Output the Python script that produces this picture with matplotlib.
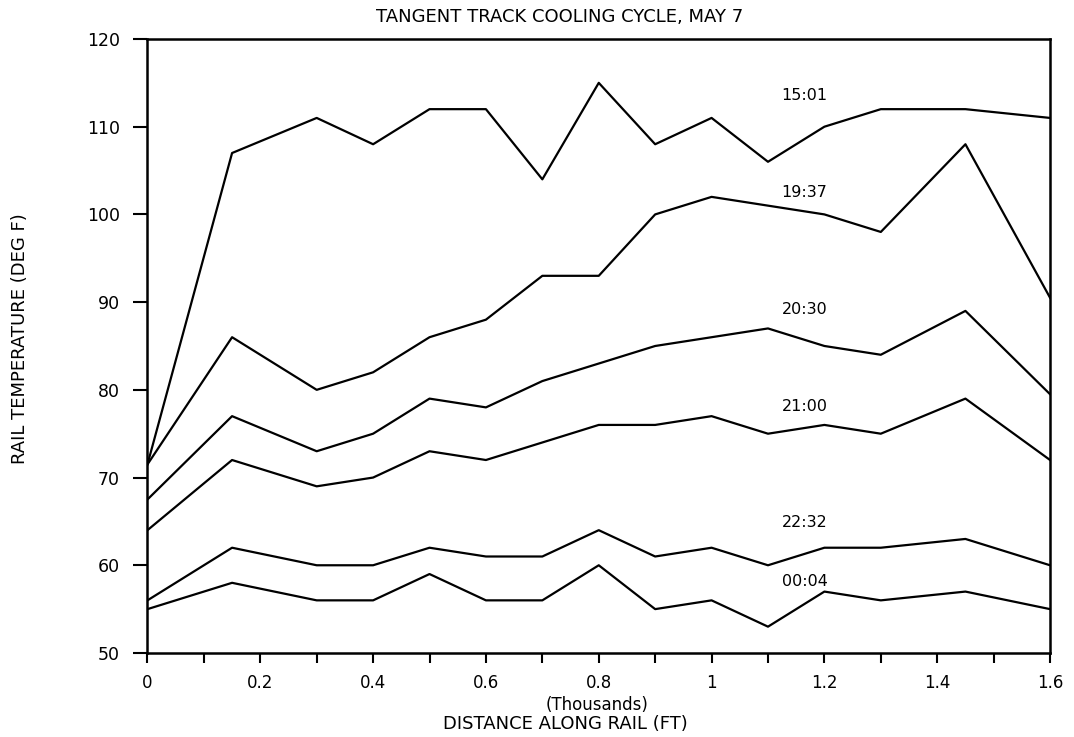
import numpy as np
import matplotlib
matplotlib.use('Agg')
import matplotlib.pyplot as plt
from matplotlib.ticker import FixedLocator, MultipleLocator


# 距离 (千英尺)
distance = [0, 0.15, 0.3, 0.4, 0.5, 0.6, 0.7, 0.8, 0.9, 1.0, 1.1, 1.2, 1.3, 1.45, 1.6]

# 各时刻的轨温 (deg F)
t_1501 = [71.5, 107, 111, 108, 112, 112, 104, 115, 108, 111, 106, 110, 112, 112, 111]
t_1937 = [71.5, 86, 80, 82, 86, 88, 93, 93, 100, 102, 101, 100, 98, 108, 90.5]
t_2030 = [67.5, 77, 73, 75, 79, 78, 81, 83, 85, 86, 87, 85, 84, 89, 79.5]
t_2100 = [64, 72, 69, 70, 73, 72, 74, 76, 76, 77, 75, 76, 75, 79, 72]
t_2232 = [56, 62, 60, 60, 62, 61, 61, 64, 61, 62, 60, 62, 62, 63, 60]
t_0004 = [55, 58, 56, 56, 59, 56, 56, 60, 55, 56, 53, 57, 56, 57, 55]

times = ['15:01', '19:37', '20:30', '21:00', '22:32', '00:04']
series = [t_1501, t_1937, t_2030, t_2100, t_2232, t_0004]
label_y = [113.6, 102.5, 89.2, 78.1, 64.9, 58.1]
label_x = 1.165

x_ticks = [0, 0.2, 0.4, 0.6, 0.8, 1.0, 1.2, 1.4, 1.6]
x_tick_labels = ['0', '0.2', '0.4', '0.6', '0.8', '1', '1.2', '1.4', '1.6']


def draw():
    plt.rcParams['font.family'] = ['DejaVu Sans']
    fig = plt.figure(figsize=(10.74, 7.37), dpi=100)
    ax = fig.add_axes([0.1373, 0.114, 0.8404, 0.8331])

    for t in series:
        ax.plot(distance, t, color='black', linewidth=1.6)

    for name, y in zip(times, label_y):
        ax.text(label_x, y, name, ha='center', va='center', fontsize=11.5)

    ax.set_xlim(0, 1.6)
    ax.set_ylim(50, 120)
    ax.xaxis.set_major_locator(FixedLocator(x_ticks))
    ax.xaxis.set_minor_locator(MultipleLocator(0.1))
    ax.set_xticklabels(x_tick_labels)
    ax.yaxis.set_major_locator(MultipleLocator(10))

    ax.tick_params(axis='x', which='both', direction='out', length=7, width=1.5,
                   pad=8, labelsize=12)
    ax.tick_params(axis='y', which='major', direction='out', length=10, width=1.5,
                   pad=10, labelsize=12.5)
    for s in ax.spines.values():
        s.set_linewidth(1.8)

    fig.text(0.521, 0.977, 'TANGENT TRACK COOLING CYCLE, MAY 7',
             ha='center', va='center', fontsize=13)
    fig.text(0.556, 0.043, '(Thousands)', ha='center', va='center', fontsize=12)
    fig.text(0.526, 0.018, 'DISTANCE ALONG RAIL (FT)', ha='center', va='center',
             fontsize=13)
    fig.text(0.019, 0.541, 'RAIL TEMPERATURE (DEG F)', ha='center', va='center',
             rotation=90, fontsize=13)

    fig.savefig('out.png', dpi=100)


draw()
